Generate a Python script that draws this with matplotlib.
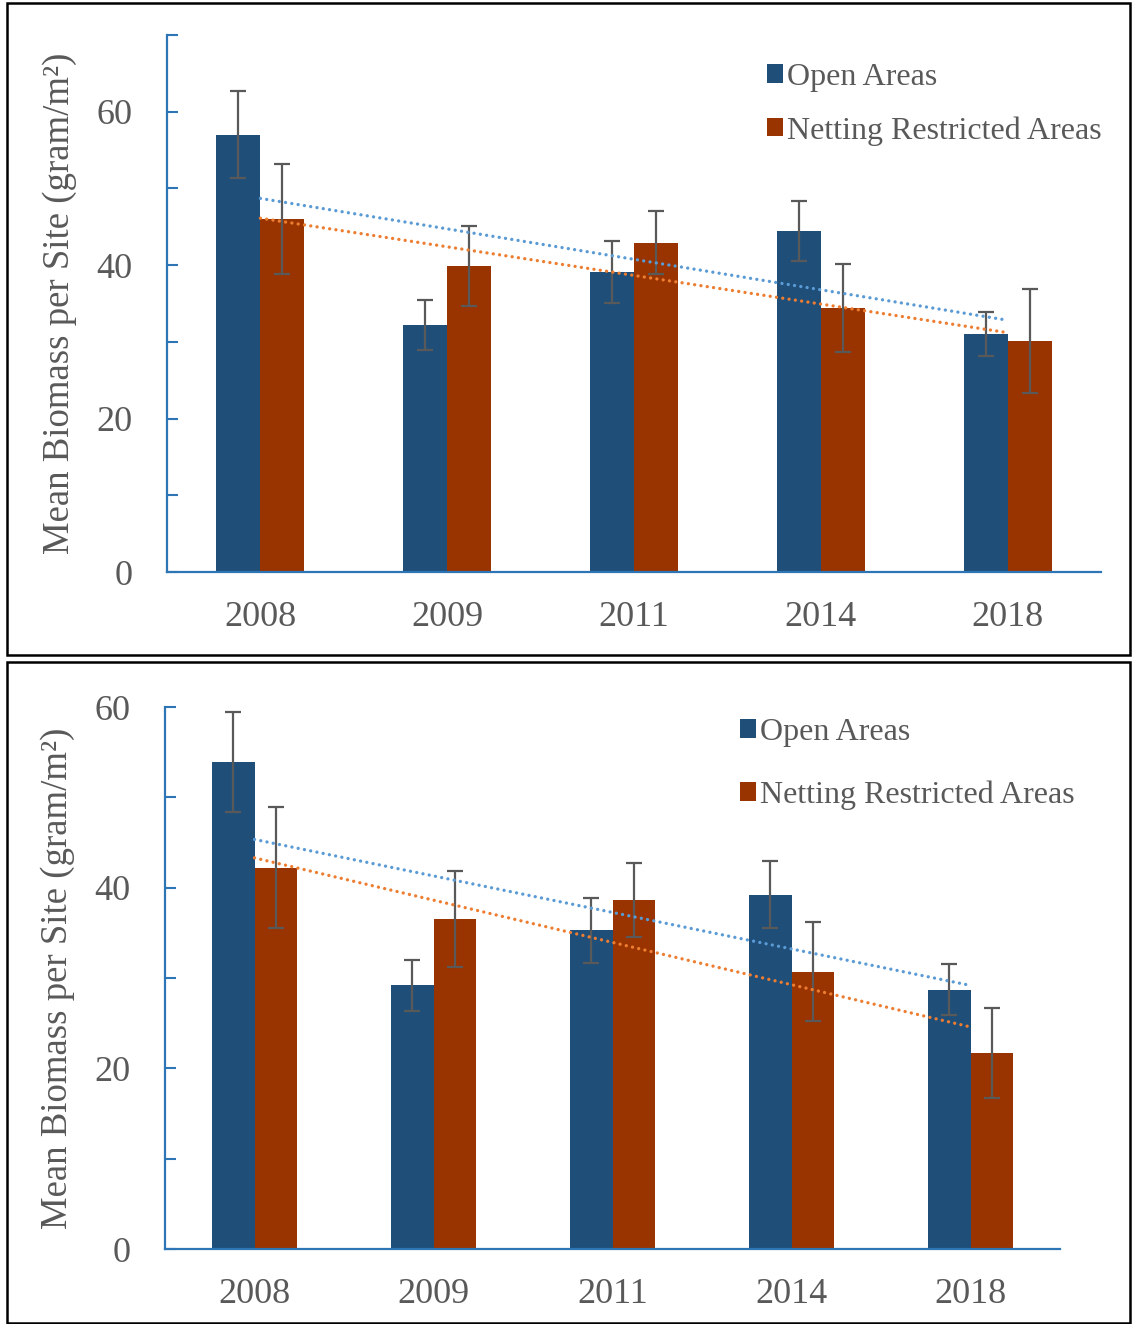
import matplotlib
matplotlib.use("Agg")
import matplotlib.pyplot as plt
import numpy as np
from matplotlib.patches import Rectangle

years = ["2008", "2009", "2011", "2014", "2018"]
series_names = ["Open Areas", "Netting Restricted Areas"]

top_open = [57.0, 32.2, 39.1, 44.5, 31.0]
top_open_err = [5.7, 3.2, 4.0, 3.9, 2.9]
top_net = [46.0, 39.9, 42.9, 34.4, 30.1]
top_net_err = [7.2, 5.2, 4.1, 5.7, 6.8]

bot_open = [53.9, 29.2, 35.3, 39.2, 28.7]
bot_open_err = [5.5, 2.8, 3.6, 3.7, 2.8]
bot_net = [42.2, 36.5, 38.6, 30.7, 21.7]
bot_net_err = [6.7, 5.3, 4.1, 5.5, 5.0]

C_OPEN = "#1F4E79"
C_NET = "#993300"
C_TR_OPEN = "#5B9BD5"
C_TR_NET = "#ED7D31"
C_TEXT = "#595959"
C_SPINE = "#2E75B6"
C_ERR = "#595959"
FONT = "Liberation Serif"

W, H = 1133, 1324
fig = plt.figure(figsize=(W / 100, H / 100), dpi=100)


def px_axes(x0, y0, x1, y1):
    return fig.add_axes([x0 / W, 1 - y1 / H, (x1 - x0) / W, (y1 - y0) / H])


def draw_panel(ax, open_v, open_e, net_v, net_e, ymax, leg_anchor, leg_spacing):
    x = np.arange(len(years))
    bw = 0.236
    b1 = ax.bar(x - bw / 2, open_v, bw, color=C_OPEN, label=series_names[0], zorder=2)
    b2 = ax.bar(x + bw / 2, net_v, bw, color=C_NET, label=series_names[1], zorder=2)
    ax.errorbar(x - bw / 2, open_v, yerr=open_e, fmt="none", ecolor=C_ERR,
                elinewidth=1.6, capsize=6, capthick=1.6, zorder=3)
    ax.errorbar(x + bw / 2, net_v, yerr=net_e, fmt="none", ecolor=C_ERR,
                elinewidth=1.6, capsize=6, capthick=1.6, zorder=3)
    for vals, col in ((open_v, C_TR_OPEN), (net_v, C_TR_NET)):
        k, b = np.polyfit(x, vals, 1)
        ax.plot(x, k * x + b, linestyle=(0, (0.01, 1.9)), color=col, lw=2.4,
                dash_capstyle="round", zorder=4)
    ax.set_xlim(-0.5, len(years) - 0.5)
    ax.set_ylim(0, ymax)
    ax.set_xticks(x)
    ax.set_xticklabels(years)
    ax.set_yticks(np.arange(0, ymax + 1, 10))
    ax.set_yticklabels([str(v) if v % 20 == 0 else "" for v in range(0, ymax + 1, 10)])
    ax.tick_params(axis="x", length=0, pad=21, labelsize=26, labelcolor=C_TEXT)
    ax.tick_params(axis="y", direction="in", length=8, width=1.5, color=C_SPINE,
                   pad=25, labelsize=26, labelcolor=C_TEXT)
    for t in ax.get_xticklabels() + ax.get_yticklabels():
        t.set_fontfamily(FONT)
    for s in ("top", "right"):
        ax.spines[s].set_visible(False)
    for s in ("left", "bottom"):
        ax.spines[s].set_color(C_SPINE)
        ax.spines[s].set_linewidth(1.6)
    ax.set_ylabel("Mean Biomass per Site (gram/m\u00b2)", fontsize=26.5, color=C_TEXT,
                  fontfamily=FONT, labelpad=14)
    ax.patch.set_alpha(0)
    leg = ax.legend(handles=[b1, b2], loc="upper left",
                    bbox_to_anchor=(leg_anchor[0] / W, 1 - leg_anchor[1] / H),
                    bbox_transform=fig.transFigure, frameon=False,
                    handlelength=0.5, handleheight=0.5, handletextpad=0.12,
                    labelspacing=leg_spacing, borderaxespad=0,
                    prop={"family": FONT, "size": 23})
    for t in leg.get_texts():
        t.set_color(C_TEXT)


ax1 = px_axes(167, 35, 1101, 572)
draw_panel(ax1, top_open, top_open_err, top_net, top_net_err, 70, (754, 50), 0.76)

ax2 = px_axes(165, 707, 1060, 1249)
draw_panel(ax2, bot_open, bot_open_err, bot_net, bot_net_err, 60, (727, 705), 1.05)

# panel frames
for (x0, y0, x1, y1) in ((7, 3, 1130, 655), (7, 662, 1130, 1323)):
    fig.add_artist(Rectangle((x0 / W, 1 - y1 / H), (x1 - x0) / W, (y1 - y0) / H,
                             transform=fig.transFigure, fill=False,
                             edgecolor="black", lw=1.8))

fig.savefig("out.png", dpi=100)
